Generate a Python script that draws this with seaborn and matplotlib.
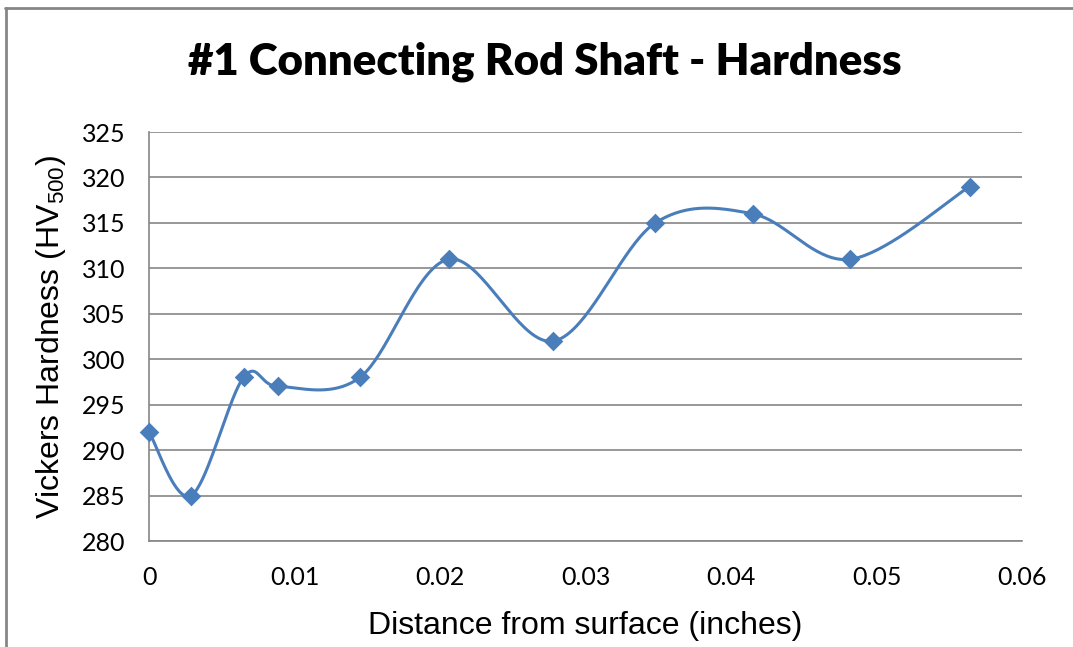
import numpy as np
import pandas as pd
import matplotlib
matplotlib.use("Agg")
import matplotlib.pyplot as plt
from matplotlib.lines import Line2D
import seaborn as sns

# Hardness traverse of the rod shaft
distance_in = [0.0, 0.0029, 0.0065, 0.0089, 0.0145, 0.0206, 0.0278, 0.0348, 0.0415, 0.0482, 0.0564]
hardness_hv = [292, 285, 298, 297, 298, 311, 302, 315, 316, 311, 319]

x_ticks = [0, 0.01, 0.02, 0.03, 0.04, 0.05, 0.06]
x_tick_labels = ["0", "0.01", "0.02", "0.03", "0.04", "0.05", "0.06"]
y_ticks = list(range(280, 326, 5))

title = "#1 Connecting Rod Shaft - Hardness"
x_label = "Distance from surface (inches)"
y_label = r"Vickers Hardness (HV$\mathregular{_{500}}$)"

LINE_BLUE = "#4A7EBB"
GRID_GREY = "#868686"


def smooth_curve(xs, ys, steps=40):
    """Catmull-Rom spline through the points (smoothed-line style)."""
    p = np.column_stack([xs, ys]).astype(float)
    p = np.vstack([p[0], p, p[-1]])
    out = []
    t = np.linspace(0, 1, steps, endpoint=False)[:, None]
    for i in range(1, len(p) - 2):
        p0, p1, p2, p3 = p[i - 1], p[i], p[i + 1], p[i + 2]
        c1 = p1 + (p2 - p0) / 6.0
        c2 = p2 - (p3 - p1) / 6.0
        seg = ((1 - t) ** 3) * p1 + 3 * ((1 - t) ** 2) * t * c1 + 3 * (1 - t) * t ** 2 * c2 + t ** 3 * p2
        out.append(seg)
    out.append(p[-2][None, :])
    return np.vstack(out)


sns.set_theme(style="white")
plt.rcParams["font.family"] = ["Lato", "DejaVu Sans"]
plt.rcParams["mathtext.fontset"] = "custom"
plt.rcParams["mathtext.rm"] = "Liberation Sans"

fig = plt.figure(figsize=(10.73, 6.47), dpi=100)
ax = fig.add_axes([149 / 1073, 1 - 541 / 647, (1022 - 149) / 1073, (541 - 132) / 647])

curve = smooth_curve(distance_in, hardness_hv)
curve_df = pd.DataFrame({"x": curve[:, 0], "y": curve[:, 1], "i": np.arange(len(curve))})
points_df = pd.DataFrame({"distance": distance_in, "hardness": hardness_hv})

sns.lineplot(data=curve_df, x="x", y="y", sort=False, estimator=None,
             color=LINE_BLUE, linewidth=2.2, ax=ax, zorder=3)
sns.scatterplot(data=points_df, x="distance", y="hardness", marker="D", s=100,
                color=LINE_BLUE, edgecolor=LINE_BLUE, linewidth=0, ax=ax, zorder=4,
                clip_on=False)

ax.set_xlim(0, 0.06)
ax.set_ylim(280, 325)
ax.set_xticks(x_ticks)
ax.set_xticklabels(x_tick_labels)
ax.set_yticks(y_ticks)
ax.yaxis.grid(True, color=GRID_GREY, linewidth=1.2)
ax.xaxis.grid(False)

for side in ("top", "right"):
    ax.spines[side].set_visible(False)
for side in ("left", "bottom"):
    ax.spines[side].set_color(GRID_GREY)
    ax.spines[side].set_linewidth(1.2)

ax.tick_params(axis="both", which="major", direction="out", length=5, width=1.2,
               color=GRID_GREY, labelsize=18, labelcolor="black")
ax.tick_params(axis="x", pad=13)
ax.tick_params(axis="y", pad=12)

ax.set_xlabel(x_label, fontsize=23, family="Liberation Sans", labelpad=16, color="black")
ax.set_ylabel(y_label, fontsize=23, family="Liberation Sans", labelpad=10, color="black")

fig.text(545 / 1073, 1 - 62 / 647, title, ha="center", va="center", color="black",
         fontsize=31.5, fontweight="heavy", family=["Lato", "DejaVu Sans"])

# Chart-area frame along the top and left edges
fig.add_artist(Line2D([5 / 1073, 1], [1 - 7.5 / 647, 1 - 7.5 / 647], transform=fig.transFigure,
                      color=GRID_GREY, linewidth=2.0))
fig.add_artist(Line2D([5.5 / 1073, 5.5 / 1073], [0, 1 - 7.5 / 647], transform=fig.transFigure,
                      color=GRID_GREY, linewidth=2.0))

fig.savefig("out.png", dpi=100, facecolor="white")
